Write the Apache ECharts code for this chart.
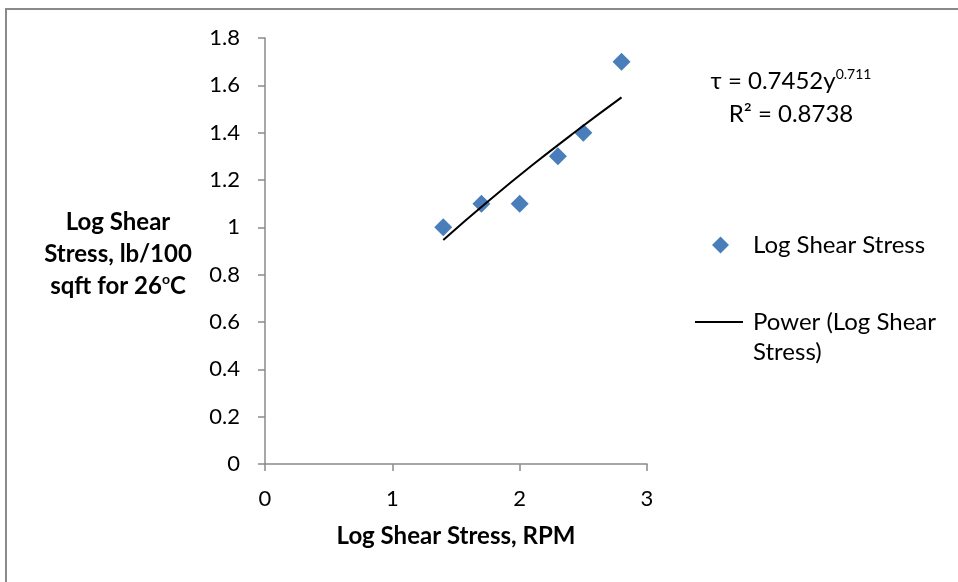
<!DOCTYPE html>
<html>
<head>
<meta charset="utf-8">
<script src="https://cdn.jsdelivr.net/npm/echarts@6/dist/echarts.min.js"></script>
<style>
  html, body { margin: 0; padding: 0; background: #fff; }
  #chart { width: 958px; height: 582px; }
</style>
</head>
<body>
<div id="chart"></div>
<script>
// data
var rpmLog = [1.4, 1.7, 2.0, 2.3, 2.5, 2.8];
var stressLog = [1.0, 1.1, 1.1, 1.3, 1.4, 1.7];
// fitted curve as drawn (tau = 0.7452y^0.711)
var fitX = [1.4, 1.75, 2.1, 2.45, 2.8];
var fitY = [0.947, 1.109, 1.263, 1.409, 1.549];
var xTicks = [0, 1, 2, 3];
var yTicks = [0, 0.2, 0.4, 0.6, 0.8, 1, 1.2, 1.4, 1.6, 1.8];

var FONT = 'Lato, "Noto Sans", sans-serif';
var AXIS_GRAY = '#8a8a8a';

var chart = echarts.init(document.getElementById('chart'));

var scatterData = rpmLog.map(function (x, i) { return [x, stressLog[i]]; });
var fitData = fitX.map(function (x, i) { return [x, fitY[i]]; });

var option = {
    animation: false,
    textStyle: { fontFamily: FONT },
    grid: { left: 265, right: 311, top: 38, bottom: 118 },
    xAxis: {
        type: 'value',
        min: xTicks[0],
        max: xTicks[xTicks.length - 1],
        interval: 1,
        splitLine: { show: false },
        axisLine: { lineStyle: { color: AXIS_GRAY, width: 1.5 } },
        axisTick: { length: 7, lineStyle: { color: AXIS_GRAY, width: 1.5 } },
        axisLabel: { color: '#000', fontSize: 22, fontFamily: FONT, margin: 24 }
    },
    yAxis: {
        type: 'value',
        min: yTicks[0],
        max: yTicks[yTicks.length - 1],
        interval: 0.2,
        splitLine: { show: false },
        axisLine: { show: true, lineStyle: { color: AXIS_GRAY, width: 1.5 } },
        axisTick: { show: true, length: 7, lineStyle: { color: AXIS_GRAY, width: 1.5 } },
        axisLabel: {
            color: '#000', fontSize: 22, fontFamily: FONT, margin: 25,
            formatter: function (v) { return String(Math.round(v * 10) / 10); }
        }
    },
    legend: [{
        data: ['Log Shear Stress'],
        left: 712, top: 233,
        padding: 0,
        icon: 'diamond',
        itemWidth: 17, itemHeight: 17,
        textStyle: { fontSize: 24, color: '#000', fontFamily: FONT, padding: [0, 0, 0, 19] }
    }, {
        data: ['Power (Log Shear Stress)'],
        left: 695, top: 277,
        padding: 0,
        icon: 'path://M0,0L100,0L100,4L0,4Z',
        itemWidth: 48, itemHeight: 2,
        formatter: function () { return ' \nPower (Log Shear\nStress)'; },
        textStyle: { fontSize: 24, color: '#000', fontFamily: FONT, lineHeight: 30, padding: [0, 0, 0, 5] }
    }],
    series: [{
        name: 'Log Shear Stress',
        type: 'scatter',
        symbol: 'diamond',
        symbolSize: 18,
        itemStyle: { color: '#4A7EBB', opacity: 1 },
        data: scatterData,
        z: 2
    }, {
        name: 'Power (Log Shear Stress)',
        type: 'line',
        smooth: true,
        symbol: 'none',
        lineStyle: { color: '#000', width: 2 },
        itemStyle: { color: '#000' },
        data: fitData,
        z: 3
    }],
    graphic: [{
        type: 'rect',
        shape: { x: 6, y: 9, width: 1000, height: 700 },
        style: { fill: null, stroke: '#8a8a8a', lineWidth: 2 },
        silent: true
    }, {
        type: 'text',
        x: 118, y: 206,
        style: {
            text: 'Log Shear\nStress, lb/100\nsqft for 26{s|o}C',
            align: 'center',
            fontFamily: FONT, fontSize: 24, fontWeight: 'bold',
            lineHeight: 32, fill: '#000',
            rich: { s: { fontSize: 14, fontWeight: 'bold', fontFamily: FONT, padding: [0, 0, 14, 0] } }
        }
    }, {
        type: 'text',
        x: 456, y: 524,
        style: {
            text: 'Log Shear Stress, RPM',
            align: 'center',
            fontFamily: FONT, fontSize: 24, fontWeight: 'bold', fill: '#000'
        }
    }, {
        type: 'text',
        x: 791, y: 65,
        style: {
            text: 'τ = 0.7452y{s|0.711}\nR² = 0.8738',
            align: 'center',
            fontFamily: FONT, fontSize: 24, lineHeight: 33, fill: '#000',
            rich: { s: { fontSize: 14, fontFamily: FONT, padding: [0, 0, 14, 0] } }
        }
    }]
};

chart.setOption(option);
</script>
</body>
</html>
